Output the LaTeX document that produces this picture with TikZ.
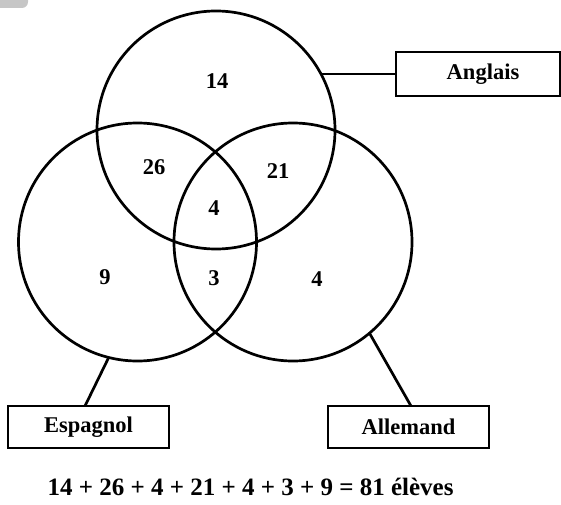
\documentclass[tikz,border=0pt]{standalone}
\usepackage{fontspec}
\setmainfont{Liberation Serif}
\begin{document}
\begin{tikzpicture}[x=1pt,y=1pt,
  set/.style={circle, draw, line width=2.7pt, minimum size=238pt, inner sep=0pt, outer sep=0pt},
  count/.style={font=\fontsize{22.5}{26}\selectfont\bfseries, inner sep=0pt},
  tag/.style={rectangle, draw, line width=2.7pt, minimum width=161pt, minimum height=42pt,
    inner sep=0pt, outer sep=0pt, font=\fontsize{22.5}{26}\selectfont\bfseries},
  link/.style={line width=2.7pt}]
  \useasboundingbox (0,0) rectangle (561,504);
  % grey tab in the upper left corner
  \fill[gray!45, rounded corners=6pt] (-12,496) rectangle (28,516);

  % the three sets
  \node[set] (A) at (216,374) {};
  \node[set] (E) at (137.5,262) {};
  \node[set] (D) at (293,262) {};

  % counts in each region
  \node[count] (nA)   at (217,423) {14};
  \node[count] (nAE)  at (154,337) {26};
  \node[count] (nAD)  at (278,333) {21};
  \node[count] (nAED) at (214,296) {4};
  \node[count] (nED)  at (214,226) {3};
  \node[count] (nE)   at (105,227) {9};
  \node[count] (nD)   at (317,225) {4};

  % set names
  \node[tag, minimum width=164pt, minimum height=44pt] (ang) at (478,430) {\kern10pt Anglais};
  \node[tag] (esp) at (88.5,77) {Espagnol};
  \node[tag] (all) at (408.5,77) {Allemand};

  \draw[link] (A.28.6) -- (A.28.6 -| ang.west);
  \draw[link] (E.-104.4) -- ([xshift=-3.5pt]esp.north);
  \draw[link] (D.-50.4) -- ([xshift=2.5pt]all.north);

  % total
  \node[font=\fontsize{25}{29}\selectfont\bfseries, anchor=base, inner sep=0pt] (sum) at (250.5,9)
    {14 + 26 + 4 + 21 + 4 + 3 + 9 = 81 élèves};
\end{tikzpicture}
\end{document}
